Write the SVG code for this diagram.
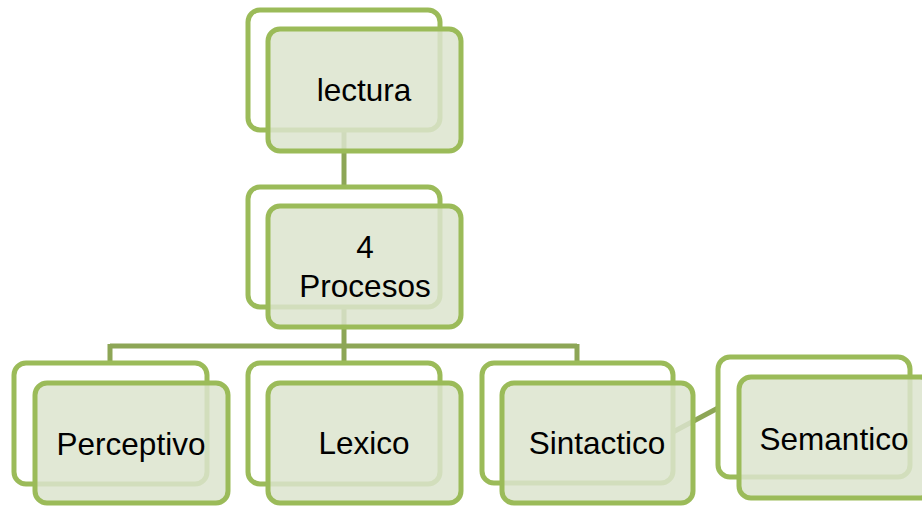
<svg xmlns="http://www.w3.org/2000/svg" width="922" height="506" viewBox="0 0 922 506">
<style>
.back{fill:#ffffff;stroke:#9BBB59;stroke-width:5}
.front{fill:#DCE4CE;fill-opacity:0.85;stroke:#9BBB59;stroke-width:5}
.conn{fill:none;stroke:#8DA656;stroke-width:5}
.lbl{font-family:"Liberation Sans",Arial,sans-serif;font-size:31.5px;fill:#000;text-anchor:middle}
</style>
<rect width="922" height="506" fill="#ffffff"/>
<g id="connectors">
<path class="conn" d="M344,130 V188"/>
<path class="conn" d="M344,307 V346 M110,346 H577 M110,344 V364 M344,346 V364 M577,344 V364"/>
<path class="conn" d="M673,432 L718,408"/>
</g>
<g id="node-lectura">
<rect class="back" x="248" y="10" width="192" height="120" rx="12"/>
<rect class="front" x="268" y="29" width="193" height="122" rx="12"/>
<text class="lbl" x="364" y="101">lectura</text>
</g>
<g id="node-procesos">
<rect class="back" x="248" y="187" width="192" height="120" rx="12"/>
<rect class="front" x="268" y="206" width="193" height="121" rx="12"/>
<text class="lbl" x="365" y="258">4</text>
<text class="lbl" x="365" y="297">Procesos</text>
</g>
<g id="node-perceptivo">
<rect class="back" x="14" y="363" width="193" height="121" rx="12"/>
<rect class="front" x="35" y="383" width="193" height="120" rx="12"/>
<text class="lbl" x="131" y="455">Perceptivo</text>
</g>
<g id="node-lexico">
<rect class="back" x="248" y="363" width="192" height="121" rx="12"/>
<rect class="front" x="268" y="383" width="193" height="120" rx="12"/>
<text class="lbl" x="364" y="454">Lexico</text>
</g>
<g id="node-sintactico">
<rect class="back" x="482" y="363" width="191" height="120" rx="12"/>
<rect class="front" x="502" y="383" width="191" height="120" rx="12"/>
<text class="lbl" x="597" y="454">Sintactico</text>
</g>
<g id="node-semantico">
<rect class="back" x="718" y="357" width="192" height="120" rx="12"/>
<rect class="front" x="739" y="377" width="193" height="121" rx="12"/>
<text class="lbl" x="834" y="450">Semantico</text>
</g>
</svg>
